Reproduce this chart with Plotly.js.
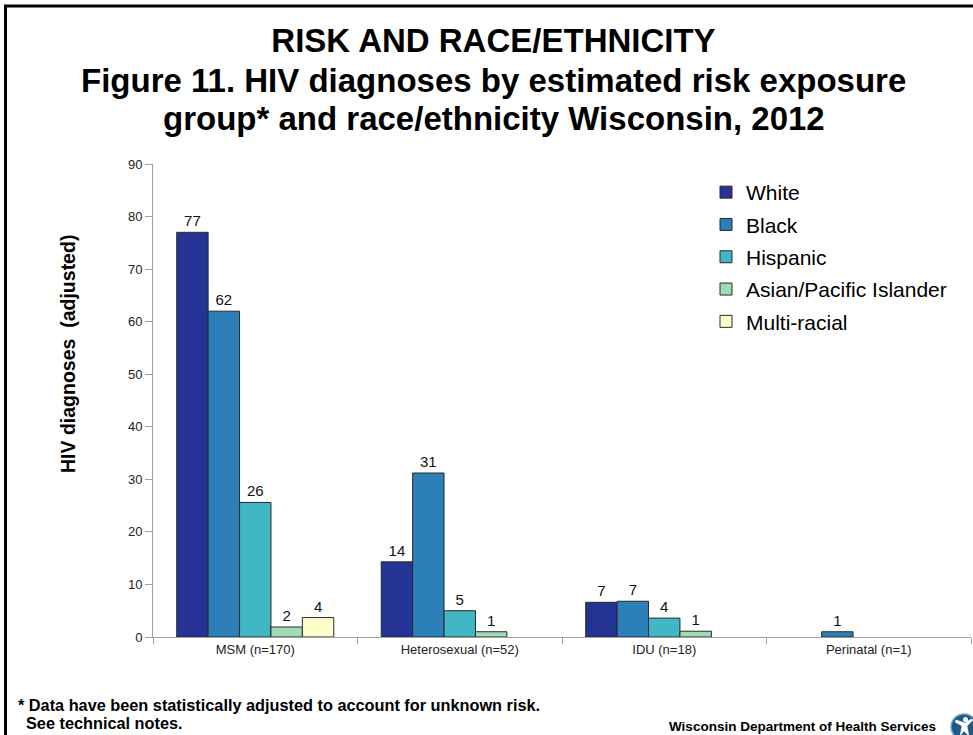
<!DOCTYPE html>
<html>
<head>
<meta charset="utf-8">
<script src="https://cdn.plot.ly/plotly-3.0.1.min.js"></script>
<style>
  html, body { margin: 0; padding: 0; background: #ffffff; }
  #chart { width: 973px; height: 735px; }
</style>
</head>
<body>
<div id="chart"></div>
<script>
// Risk exposure groups (x categories)
const categories = ['MSM (n=170)', 'Heterosexual (n=52)', 'IDU (n=18)', 'Perinatal (n=1)'];

// Adjusted HIV diagnoses by race/ethnicity, Wisconsin 2012
const white       = [77, 14.3, 6.6, null];
const black       = [62, 31.2, 6.8, 1.0];
const hispanic    = [25.6, 5.0, 3.6, null];
const asianPI     = [1.9, 1.0, 1.1, null];
const multiracial = [3.7, null, null, null];

const seriesNames = ['White', 'Black', 'Hispanic', 'Asian/Pacific Islander', 'Multi-racial'];
const seriesValues = [white, black, hispanic, asianPI, multiracial];
const seriesColors = ['#253494', '#2c7fb8', '#41b6c4', '#a1dab4', '#ffffcc'];

const yTicks = [0, 10, 20, 30, 40, 50, 60, 70, 80, 90];

const FONT = 'Liberation Sans, Arial, Helvetica, sans-serif';

const traces = seriesNames.map((name, i) => ({
  type: 'bar',
  name: name,
  x: categories,
  y: seriesValues[i],
  legendgroup: 'g' + i,
  marker: { color: seriesColors[i], line: { color: '#2a2a2a', width: 1 } },
  texttemplate: '%{y:.0f}',
  textposition: 'outside',
  textfont: { family: FONT, size: 15, color: '#111' },
  cliponaxis: false,
  hoverinfo: 'x+y+name'
}));

// plot area in pixels: left 153, right 971, top 164, bottom 637
const W = 973, H = 735, L = 153, R = 2, T = 164, B = 98;
const pw = W - L - R, ph = H - T - B;
const px = v => (v - L) / pw;          // page x -> paper x
const py = v => (H - B - v) / ph;      // page y -> paper y

const boldText = (text, x, y, size, xanchor, extra) => Object.assign({
  text: text,
  xref: 'paper', yref: 'paper', x: px(x), y: py(y),
  xanchor: xanchor, yanchor: 'middle', showarrow: false,
  font: { family: FONT, size: size, weight: 'bold', color: '#000' }
}, extra || {});

const layout = {
  width: W,
  height: H,
  margin: { l: L, r: R, t: T, b: B, pad: 0 },
  paper_bgcolor: '#ffffff',
  plot_bgcolor: '#ffffff',
  font: { family: FONT, color: '#111' },
  title: {
    text: 'RISK AND RACE/ETHNICITY',
    font: { family: FONT, size: 33, weight: 'bold', color: '#000' },
    x: 493.5 / W, xanchor: 'center', xref: 'container',
    y: 1 - 40 / H, yanchor: 'middle', yref: 'container'
  },
  barmode: 'group',
  bargap: 0.232,
  bargroupgap: 0,
  showlegend: true,
  legend: {
    x: px(706), xanchor: 'left',
    y: py(172), yanchor: 'top',
    traceorder: 'grouped',
    tracegroupgap: 2,
    bgcolor: 'rgba(0,0,0,0)',
    font: { family: FONT, size: 21, color: '#000' }
  },
  xaxis: {
    type: 'category',
    showline: true, linecolor: '#a0a0a0', linewidth: 1,
    ticks: 'outside', tickson: 'boundaries', ticklen: 6, tickcolor: '#a0a0a0',
    tickfont: { family: FONT, size: 13, color: '#222' },
    showgrid: false, zeroline: false, fixedrange: true
  },
  yaxis: {
    range: [0, 90],
    tickvals: yTicks,
    showline: true, linecolor: '#a0a0a0', linewidth: 1,
    ticks: 'outside', ticklen: 7, tickcolor: '#a0a0a0',
    tickfont: { family: FONT, size: 13, color: '#222' },
    showgrid: false, zeroline: false, fixedrange: true
  },
  annotations: [
    boldText('Figure 11. HIV diagnoses by estimated risk exposure', 493.5, 80, 33, 'center'),
    boldText('group* and race/ethnicity Wisconsin, 2012', 493.5, 118, 33, 'center'),
    boldText('HIV diagnoses  (adjusted)', 68, 354, 19.5, 'center', { textangle: -90 }),
    boldText('* Data have been statistically adjusted to account for unknown risk.', 16, 705, 16.3, 'left'),
    boldText('See technical notes.', 24, 723, 16.3, 'left'),
    boldText('Wisconsin Department of Health Services', 938, 726, 13.5, 'right')
  ],
  shapes: [
    // slide frame
    {
      type: 'rect', xref: 'paper', yref: 'paper',
      x0: px(5.5), x1: px(1100), y0: py(900), y1: py(6),
      line: { color: '#000', width: 3 }, fillcolor: 'rgba(0,0,0,0)', layer: 'above'
    },
    // department emblem
    {
      type: 'circle', xref: 'paper', yref: 'paper',
      xsizemode: 'pixel', ysizemode: 'pixel',
      xanchor: px(964), yanchor: py(727),
      x0: -13, x1: 13, y0: -13, y1: 13,
      fillcolor: '#1f5a86', line: { color: '#6fa8c8', width: 1.5 }, layer: 'above'
    },
    {
      type: 'path', xref: 'paper', yref: 'paper',
      xsizemode: 'pixel', ysizemode: 'pixel',
      xanchor: px(964), yanchor: py(727),
      path: 'M-9,5 L-2,1 L-4,-9 L0,-4 L5,-9 L3,1 L9,7 L7,8 L1,4 L-8,7 Z',
      fillcolor: '#ffffff', line: { color: '#ffffff', width: 0.5 }, layer: 'above'
    },
    {
      type: 'circle', xref: 'paper', yref: 'paper',
      xsizemode: 'pixel', ysizemode: 'pixel',
      xanchor: px(964), yanchor: py(727),
      x0: -1, x1: 4, y0: 5, y1: 10,
      fillcolor: '#ffffff', line: { width: 0 }, layer: 'above'
    }
  ]
};

Plotly.newPlot('chart', traces, layout, { displayModeBar: false, staticPlot: true });
</script>
</body>
</html>
